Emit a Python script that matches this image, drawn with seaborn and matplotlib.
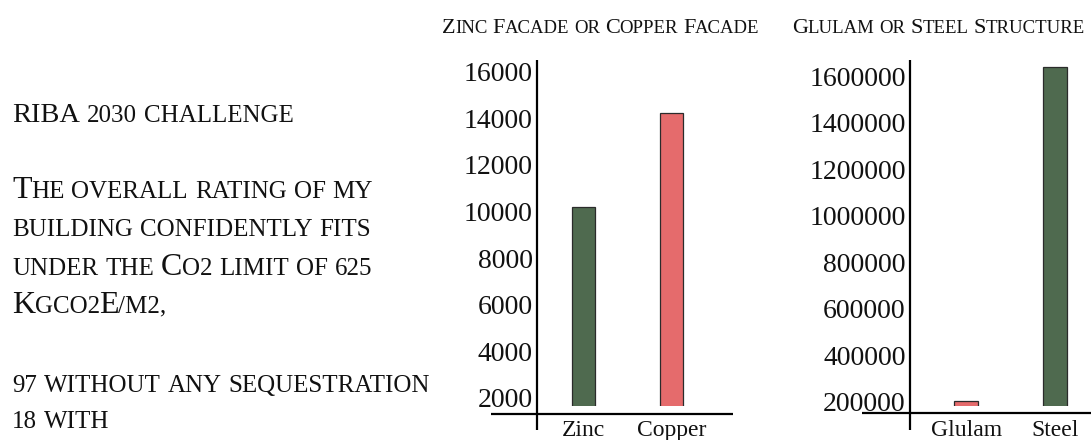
import matplotlib.pyplot as plt
from matplotlib.lines import Line2D
import seaborn as sns
from itertools import groupby

sns.set_style('white')
plt.rcParams['font.family'] = ['Liberation Serif', 'DejaVu Serif']

# data
facade_cats = ['Zinc', 'Copper']
facade_vals = [10200, 14240]
facade_ticks = [2000, 4000, 6000, 8000, 10000, 12000, 14000, 16000]

structure_cats = ['Glulam', 'Steel']
structure_vals = [205000, 1640000]
structure_ticks = [200000, 400000, 600000, 800000, 1000000, 1200000, 1400000, 1600000]

heading = 'RIBA 2030 challenge'
paragraph = ['The overall rating of my', 'building confidently fits',
             'under the Co2 limit of 625', 'Kgco2E/m2,']
notes = ['97 without any sequestration', '18 with']
titles = ['Zinc Facade or Copper Facade', 'Glulam or Steel Structure']

green = '#4f6a4f'
red = '#e56b6c'

W, H = 1091, 440
fig = plt.figure(figsize=(W / 100, H / 100), dpi=100)
renderer = fig.canvas.get_renderer()


def box(left, top, right, bottom):
    return [left / W, 1 - bottom / H, (right - left) / W, (bottom - top) / H]


def line(xs, ys):
    fig.add_artist(Line2D([x / W for x in xs], [1 - y / H for y in ys],
                          color='black', lw=1.6, solid_capstyle='butt'))


def smallcaps(x, y, s, size, small):
    # fake small caps: lowercase letters drawn as capitals at a smaller size
    cx = x
    for i, word in enumerate(s.split(' ')):
        if i:
            cx += 0.3 * small * 100 / 72
        for big, chars in groupby(word, key=str.isupper):
            txt = ''.join(chars)
            t = fig.text(cx / W, 1 - y / H, txt.upper(), fontsize=size if big else small,
                         ha='left', va='baseline', color='#111111')
            cx += t.get_window_extent(renderer).width - 0.5


ax1 = fig.add_axes(box(537, 60, 733, 405.5))
ax2 = fig.add_axes(box(910, 60, 1091, 405.5))

setups = [
    (ax1, facade_cats, facade_vals, facade_ticks, [green, red], (1678, 16502), (-0.528, 1.70)),
    (ax2, structure_cats, structure_vals, structure_ticks, [red, green], (183600, 1668800), (-0.63, 1.40)),
]
for ax, cats, vals, ticks, pal, ylim, xlim in setups:
    sns.barplot(x=cats, y=vals, hue=cats, palette=pal, width=0.27, saturation=1,
                edgecolor='#2b2b2b', linewidth=0.9, legend=False, ax=ax)
    ax.set_ylim(*ylim)
    ax.set_xlim(*xlim)
    ax.set_yticks(ticks)
    ax.set_yticklabels([str(t) for t in ticks])
    ax.tick_params(axis='y', length=0, pad=3, labelsize=20, labelcolor='#111111')
    ax.tick_params(axis='x', length=0, pad=10.5, labelsize=17, labelcolor='#111111')
    ax.set_xlabel('')
    ax.set_ylabel('')
    sns.despine(ax=ax, left=True, bottom=True)
    ax.patch.set_alpha(0)

# hand drawn style axes
line([537, 537], [60, 430])
line([491, 733], [414, 414])
line([910, 910], [60, 430])
line([862, 1091], [413, 413])

# titles and text
smallcaps(442, 33, titles[0], 16, 13.5)
smallcaps(792, 33, titles[1], 16, 13.5)

smallcaps(12, 122, heading, 20.5, 18)
for i, s in enumerate(paragraph):
    smallcaps(12, 198 + i * 38.3, s, 23, 18)
for i, s in enumerate(notes):
    smallcaps(12, 392 + i * 36, s, 23, 18)

fig.savefig('out.png', dpi=100)
